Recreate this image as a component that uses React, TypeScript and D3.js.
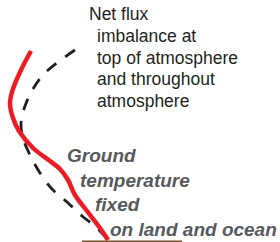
import React, { useEffect } from "react";
import * as d3 from "d3";

const width = 280;
const height = 242;

// profiles: [horizontal position, height above ground]
const fixedGroundProfile: [number, number][] = [
  [31, 191], [21, 172], [12, 150], [10, 138], [13, 124], [19, 111],
  [33, 94], [50, 81], [60, 73], [68, 62], [75, 47], [87, 31], [100, 14], [108, 2],
];
const netFluxProfile: [number, number][] = [
  [75, 192], [58, 180], [43, 167], [33, 153], [25, 136], [21, 119],
  [23, 104], [30, 87], [40, 69], [52, 53], [67, 40], [82, 26], [97, 14], [108, 2],
];
const groundSpan = [82, 182];

const fluxLabel = ["Net flux", "imbalance at", "top of atmosphere", "and throughout", "atmosphere"];
const fluxIndent = [0, 8, 8, 8, 8];
const groundLabel = ["Ground", "temperature", "fixed", "on land and ocean"];
const groundIndent = [0, 13, 28, 43];

const App = () => {
  useEffect(() => {
    document.body.style.margin = "0";
  }, []);

  const x = d3.scaleLinear().domain([0, width]).range([0, width]);
  const y = d3.scaleLinear().domain([0, height]).range([height, 0]);

  const line = d3
    .line<[number, number]>()
    .x((d) => x(d[0]))
    .y((d) => y(d[1]))
    .curve(d3.curveCatmullRom.alpha(0.5));

  return (
    <svg width={width} height={height} style={{ display: "block" }}>
      <line
        x1={x(groundSpan[0])}
        x2={x(groundSpan[1])}
        y1={y(0.8)}
        y2={y(0.8)}
        stroke="#7a5230"
        strokeWidth={1.6}
      />
      <path
        d={line(netFluxProfile) ?? ""}
        fill="none"
        stroke="#231f20"
        strokeWidth={2.8}
        strokeDasharray="12 11"
      />
      <path
        d={line(fixedGroundProfile) ?? ""}
        fill="none"
        stroke="#ed1c24"
        strokeWidth={4.5}
        strokeLinecap="butt"
      />
      <g fontFamily="Liberation Sans, Arial, sans-serif" fontSize={17.5} fill="#231f20">
        {fluxLabel.map((t, i) => (
          <text key={t} x={89 + fluxIndent[i]} y={20 + i * 21.8}>
            {t}
          </text>
        ))}
      </g>
      <g
        fontFamily="Liberation Sans, Arial, sans-serif"
        fontSize={19}
        fontWeight="bold"
        fontStyle="italic"
        fill="#58595b"
      >
        {groundLabel.map((t, i) => (
          <text key={t} x={67 + groundIndent[i]} y={162 + i * 24.7}>
            {t}
          </text>
        ))}
      </g>
    </svg>
  );
};

export default App;
